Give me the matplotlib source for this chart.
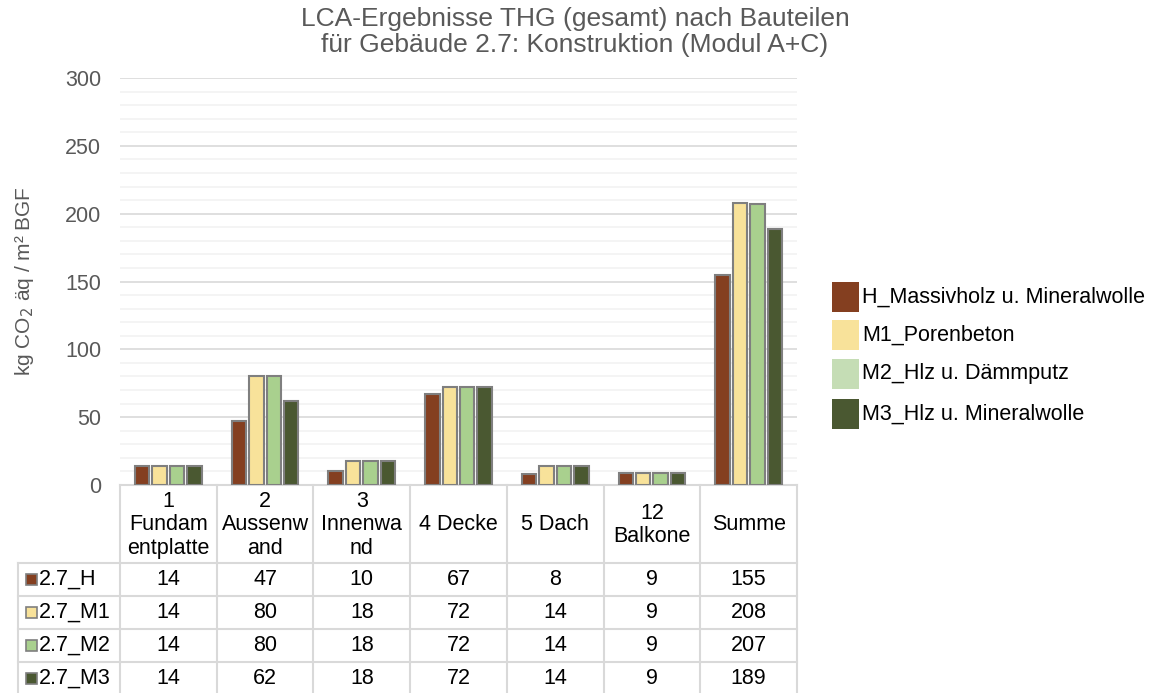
import numpy as np
import matplotlib
matplotlib.use("Agg")
import matplotlib.pyplot as plt
from matplotlib.patches import Rectangle
from matplotlib.transforms import blended_transform_factory

plt.rcParams['font.family'] = ['Liberation Sans', 'DejaVu Sans']

# Daten
bauteile = ["1\nFundam\nentplatte", "2\nAussenw\nand", "3\nInnenwa\nnd", "4 Decke",
            "5 Dach", "12\nBalkone", "Summe"]
reihen = ["2.7_H", "2.7_M1", "2.7_M2", "2.7_M3"]
legende = ["H_Massivholz u. Mineralwolle", "M1_Porenbeton", "M2_Hlz u. Dämmputz",
           "M3_Hlz u. Mineralwolle"]
werte_H = [14, 47, 10, 67, 8, 9, 155]
werte_M1 = [14, 80, 18, 72, 14, 9, 208]
werte_M2 = [14, 80, 18, 72, 14, 9, 207]
werte_M3 = [14, 62, 18, 72, 14, 9, 189]
werte = [werte_H, werte_M1, werte_M2, werte_M3]

farben = ["#843F20", "#F8E29A", "#A9D08E", "#4A5831"]
legende_farben = ["#843F20", "#F8E29A", "#C5DDB5", "#4A5831"]
grau = "#595959"
linie = "#D9D9D9"
fs = 15.5

W, H = 1159, 693
fig = plt.figure(figsize=(W / 100, H / 100), dpi=100)
ax = fig.add_axes([120 / W, 1 - 485 / H, (797 - 120) / W, (485 - 78) / H])

x = np.arange(len(bauteile))
breite = 0.15
schritt = 0.18
for i, (w, f) in enumerate(zip(werte, farben)):
    ax.bar(x + (i - 1.5) * schritt, w, breite, color=f, edgecolor="#7F7F7F",
           linewidth=1.5, zorder=3)

ax.set_xlim(-0.5, len(bauteile) - 0.5)
ax.set_ylim(0, 300)
ax.set_yticks(np.arange(0, 301, 50))
ax.set_yticks(np.arange(0, 301, 10), minor=True)
ax.grid(axis="y", which="major", color="#D9D9D9", linewidth=1.2, zorder=0)
ax.grid(axis="y", which="minor", color="#F2F2F2", linewidth=1.2, zorder=0)
ax.set_xticks([])
for s in ["top", "right", "left"]:
    ax.spines[s].set_visible(False)
ax.spines["bottom"].set_color(linie)
ax.spines["bottom"].set_linewidth(1.5)
ax.tick_params(axis="y", which="both", length=0, labelsize=fs, labelcolor=grau, pad=13.5)
ax.set_ylabel("kg CO$_2$ äq / m² BGF", fontsize=15, color=grau)
ax.yaxis.set_label_coords((36 - 120) / (797 - 120), 0.5)

# Datentabelle
tr = blended_transform_factory(ax.transData, fig.transFigure)
def fy(px):
    return 1 - px / H

kopf_oben, kopf_unten = 485, 563
zeilen_y = [563, 596, 629, 662, 695]
links = -0.5 - (120 - 18) / ((797 - 120) / len(bauteile))

for k in range(len(bauteile) + 1):
    ax.plot([k - 0.5, k - 0.5], [fy(kopf_oben), fy(695)], transform=tr, color=linie,
            lw=1.5, clip_on=False)
ax.plot([links, links], [fy(kopf_unten), fy(695)], transform=tr, color=linie, lw=1.5,
        clip_on=False)
for yy in zeilen_y:
    ax.plot([links, len(bauteile) - 0.5], [fy(yy), fy(yy)], transform=tr, color=linie,
            lw=1.5, clip_on=False)

for k, name in enumerate(bauteile):
    ax.text(k, fy((kopf_oben + kopf_unten) / 2 + 1), name, transform=tr, ha="center",
            va="center", fontsize=fs, linespacing=1.18)

for r, (name, w, f) in enumerate(zip(reihen, werte, farben)):
    ym = fy((zeilen_y[r] + zeilen_y[r + 1]) / 2)
    fig.patches.append(Rectangle((26 / W, ym - 5.5 / H), 11 / W, 11 / H, facecolor=f,
                                 edgecolor="#7F7F7F", lw=1.2, transform=fig.transFigure))
    fig.text(39 / W, ym, name, ha="left", va="center", fontsize=fs)
    for k, v in enumerate(w):
        ax.text(k, ym, str(v), transform=tr, ha="center", va="center", fontsize=fs)

# Legende
leg_y = [297, 335, 374, 414]
for name, f, yy in zip(legende, legende_farben, leg_y):
    fig.patches.append(Rectangle((832 / W, fy(yy + 15)), 27 / W, 30 / H, facecolor=f,
                                 edgecolor="none", transform=fig.transFigure))
    fig.text(862 / W, fy(yy), name, ha="left", va="center", fontsize=fs)

fig.text(575 / W, fy(7), "LCA-Ergebnisse THG (gesamt) nach Bauteilen\n"
         "für Gebäude 2.7: Konstruktion (Modul A+C)", ha="center", va="top",
         fontsize=19, color=grau, linespacing=1.1)

fig.savefig("out.png", dpi=100)
